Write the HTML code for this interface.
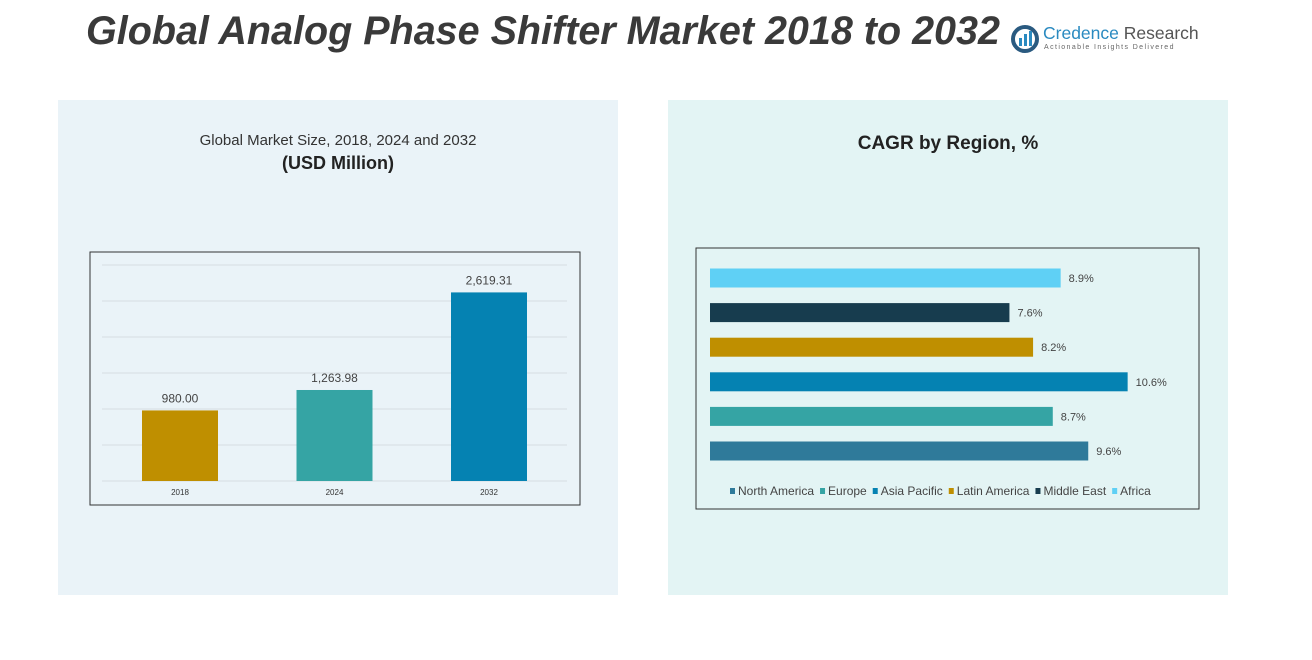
<!DOCTYPE html>
<html><head><meta charset="utf-8"><style>
body{margin:0;width:1312px;height:660px;background:#fff;font-family:"Liberation Sans",sans-serif;overflow:hidden;position:relative}
.abs{position:absolute}
</style></head><body>
<div class="abs" style="left:86px;top:9px;font-size:39.5px;font-weight:bold;font-style:italic;color:#3a3a3a;white-space:nowrap">Global Analog Phase Shifter Market 2018 to 2032</div>
<div class="abs" style="left:1010px;top:22px;width:200px;height:34px">
<svg width="30" height="30" style="position:absolute;left:0;top:2px"><circle cx="15" cy="15" r="12" fill="none" stroke="#2a5a80" stroke-width="4"/><rect x="9" y="14" width="3" height="8" fill="#2a8ac0"/><rect x="14" y="10" width="3" height="12" fill="#2a8ac0"/><rect x="19" y="7" width="3" height="15" fill="#2a8ac0"/></svg>
<div class="abs" style="left:33px;top:1px;font-size:17.5px;color:#2a8ac0;white-space:nowrap">Credence <span style="color:#555">Research</span></div>
<div class="abs" style="left:34px;top:22px;font-size:7px;color:#666;letter-spacing:1.4px;white-space:nowrap">Actionable Insights Delivered</div>
</div>
<div class="abs" style="left:58px;top:100px;width:560px;height:495px;background:#eaf3f8"></div>
<div class="abs" style="left:668px;top:100px;width:560px;height:495px;background:#e3f4f4"></div>
<div class="abs" style="left:58px;top:132px;width:560px;text-align:center;font-size:15px;color:#333">Global Market Size, 2018, 2024 and 2032</div>
<div class="abs" style="left:58px;top:153px;width:560px;text-align:center;font-size:18px;font-weight:bold;color:#222">(USD Million)</div>
<div class="abs" style="left:668px;top:133px;width:560px;text-align:center;font-size:19px;font-weight:bold;color:#222">CAGR by Region, %</div>
<svg class="abs" style="left:0;top:0" width="1312" height="660" id="svg"></svg>
<script>
const years=["2018","2024","2032"];
const sizes=[980.00,1263.98,2619.31];
const sizeLabels=["980.00","1,263.98","2,619.31"];
const barColors=["#bf8f00","#35a4a4","#0582b2"];
const regions=["Africa","Middle East","Latin America","Asia Pacific","Europe","North America"];
const cagr=[8.9,7.6,8.2,10.6,8.7,9.6];
const regionColors=["#5fd0f5","#173c4e","#bf8f00","#0582b2","#35a4a4","#2f7a9a"];
const legendOrder=["North America","Europe","Asia Pacific","Latin America","Middle East","Africa"];
const legendColors=["#2f7a9a","#35a4a4","#0582b2","#bf8f00","#173c4e","#5fd0f5"];
const svg=document.getElementById('svg');
const NS="http://www.w3.org/2000/svg";
function mk(t,a,p){const e=document.createElementNS(NS,t);for(const k in a)e.setAttribute(k,a[k]);(p||svg).appendChild(e);return e;}
let box=mk('rect',{x:90,y:252,width:490,height:253,fill:'none',stroke:'#333','stroke-width':1});


const y0=481,yMax=3000,ph=216;
const ys=v=>y0-v/yMax*ph;
for(let t=0;t<=3000;t+=500){const g=mk('line',{x1:102,x2:567,y1:ys(t),y2:ys(t),stroke:'#d6dde2'});

}
const cx=i=>180+i*154.5;
sizes.forEach((v,i)=>{
 const r=mk('rect',{x:cx(i)-38,y:ys(v),width:76,height:y0-ys(v),fill:barColors[i]});
 
 
 const l=mk('text',{x:cx(i),y:ys(v)-8,'text-anchor':'middle','font-size':12,fill:'#444'});l.textContent=sizeLabels[i];
 
 
 const x=mk('text',{x:cx(i),y:495,'text-anchor':'middle','font-size':8,fill:'#333'});x.textContent=years[i];
 
 
});
let box2=mk('rect',{x:696,y:248,width:503,height:261,fill:'none',stroke:'#333','stroke-width':1});


const x0=710,sc=39.4;
regions.forEach((r,i)=>{
 const cy=278+i*34.6;
 const b=mk('rect',{x:x0,y:cy-9.5,width:cagr[i]*sc,height:19,fill:regionColors[i]});
 
 
 const t=mk('text',{x:x0+cagr[i]*sc+8,y:cy+4,'font-size':11,fill:'#444'});t.textContent=cagr[i]+'%';
 
 
});
let lx=735;
legendOrder.forEach((n,i)=>{
 const g=mk('g',{});
 
 
 mk('rect',{x:lx-5,y:488,width:5,height:6,fill:legendColors[i]},g);
 const t=mk('text',{x:lx+3,y:495,'font-size':12,fill:'#444'},g);t.textContent=n;
 lx+=t.getComputedTextLength()+14;
});
</script>
</body></html>
